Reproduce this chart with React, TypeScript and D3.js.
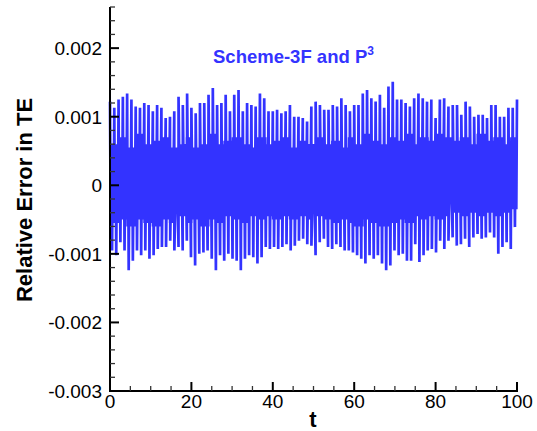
import React from "react";
import * as d3 from "d3";

// Upper peak values (units of 1e-3), read left to right across t = 0..100
const upperPeaks = [
  1.22, 1.13, 1.25, 1.29, 1.34, 1.25, 1.15, 1.13, 1.2, 1.17, 1.08, 1.17, 1.13, 0.98, 1.0, 1.08, 1.29, 1.17, 1.34, 1.13, 1.05, 1.2, 1.2, 1.32,
  1.42, 1.17, 1.2, 1.32, 1.08, 1.32, 1.39, 1.08, 1.2, 1.17, 1.15, 1.34, 1.27, 1.08, 1.08, 1.1, 1.05, 1.08, 1.17, 1.0, 1.0, 0.98, 0.93, 1.15,
  1.22, 1.17, 1.1, 1.1, 1.17, 1.15, 1.27, 1.17, 1.08, 1.17, 1.17, 1.34, 1.39, 1.27, 1.22, 1.32, 1.13, 1.44, 1.51, 1.25, 1.25, 1.2, 1.15, 1.27,
  1.34, 1.27, 1.22, 1.25, 0.98, 1.25, 1.27, 1.15, 1.17, 1.17, 1.03, 1.22, 1.15, 1.0, 1.03, 1.03, 0.98, 1.17, 1.17, 1.0, 1.0, 1.13, 1.13, 1.25,
];
// Lower peak values (units of 1e-3)
const lowerPeaks = [
  -0.95, -1.02, -0.83, -0.95, -1.24, -1.1, -0.95, -1.02, -0.95, -1.07, -1.02, -0.93, -0.9, -0.9, -0.81, -0.95, -0.9, -0.95, -0.81, -1.05, -1.17, -1.0, -0.98, -0.95, -1.07,
  -1.24, -1.02, -1.1, -1.0, -1.07, -1.1, -1.24, -1.07, -1.02, -1.05, -1.14, -1.05, -0.9, -0.93, -0.9, -0.93, -0.9, -0.86, -0.95, -0.88, -0.81, -0.78, -0.86, -0.88,
  -1.02, -0.83, -0.78, -0.9, -0.93, -0.86, -0.9, -0.95, -0.95, -0.98, -1.02, -1.07, -1.14, -1.02, -1.07, -1.02, -1.14, -1.24, -1.17, -0.95, -1.02, -1.0, -1.1, -1.1,
  -0.86, -1.12, -1.02, -0.95, -0.93, -0.98, -0.81, -0.93, -0.81, -0.76, -0.88, -0.86, -0.78, -0.9, -0.76, -0.71, -0.78, -0.76, -0.69, -0.76, -1.0, -0.9, -0.83, -0.93, -0.61,
];
// Inner (smaller-amplitude) turning levels of the dense core, two per 4 time units (units of 1e-3)
const coreHigh = [
  0.6, 0.7, 0.55, 0.75, 0.6, 0.65, 0.7, 0.55, 0.6, 0.7, 0.55, 0.6, 0.75, 0.6, 0.65, 0.7, 0.6, 0.55, 0.7, 0.6, 0.65, 0.7, 0.55, 0.65, 0.6,
  0.7, 0.6, 0.65, 0.55, 0.7, 0.6, 0.75, 0.65, 0.6, 0.7, 0.65, 0.75, 0.6, 0.7, 0.65, 0.75, 0.7, 0.65, 0.7, 0.6, 0.75, 0.65, 0.7, 0.6, 0.7,
];
const coreLow = [
  -0.55, -0.5, -0.6, -0.5, -0.55, -0.6, -0.5, -0.55, -0.45, -0.55, -0.5, -0.6, -0.5, -0.55, -0.45, -0.5, -0.55, -0.45, -0.5, -0.45, -0.5, -0.45, -0.5, -0.45, -0.5,
  -0.45, -0.5, -0.55, -0.5, -0.55, -0.6, -0.5, -0.55, -0.6, -0.55, -0.5, -0.55, -0.45, -0.5, -0.45, -0.5, -0.45, -0.4, -0.45, -0.4, -0.45, -0.4, -0.45, -0.4, -0.35,
];
const xMajorTicks = [0, 20, 40, 60, 80, 100];
const yMajorTicks = [0.002, 0.001, 0, -0.001, -0.002, -0.003];
const yTickLabels = ["0.002", "0.001", "0", "-0.001", "-0.002", "-0.003"];

const W = 537;
const H = 431;
const BLUE = "#3333ff";
const FONT = "'Liberation Sans', Arial, sans-serif";

type P = { t: number; v: number; side: number };

export default function App() {
  const x = d3.scaleLinear().domain([0, 100]).range([110, 517]);
  const y = d3.scaleLinear().domain([-0.003, 0.0026]).range([391, 7]);

  const peaks: P[] = [];
  upperPeaks.forEach((v, i) => peaks.push({ t: (i / (upperPeaks.length - 1)) * 100, v, side: 1 }));
  lowerPeaks.forEach((v, i) => peaks.push({ t: ((i + 0.5) / lowerPeaks.length) * 100, v, side: -1 }));
  peaks.sort((a, b) => a.t - b.t);

  const coreIdx = (t: number) => Math.max(0, Math.min(coreHigh.length - 1, Math.floor(t / 2)));
  const pts: [number, number][] = [];
  peaks.forEach((p, i) => {
    pts.push([p.t, p.v * 1e-3]);
    const q = peaks[i + 1];
    if (!q) return;
    const dt = q.t - p.t;
    const k = coreIdx(p.t);
    if (p.side !== q.side) {
      const first = p.side > 0 ? coreLow[k] : coreHigh[k];
      const second = p.side > 0 ? coreHigh[k] : coreLow[k];
      pts.push([p.t + dt / 3, first * 1e-3]);
      pts.push([p.t + (2 * dt) / 3, second * 1e-3]);
    } else {
      pts.push([p.t + dt / 2, (p.side > 0 ? coreLow[k] : coreHigh[k]) * 1e-3]);
    }
  });

  const line = d3
    .line<[number, number]>()
    .x((d) => x(d[0]))
    .y((d) => y(d[1]));

  const xMinor = d3.range(0, 101, 5).filter((t) => t % 20 !== 0);
  const yMinor = d3
    .range(-30, 27, 2)
    .map((k) => k * 1e-4)
    .filter((v) => Math.abs(Math.round(v * 1e4)) % 10 !== 0);

  return (
    <svg width={W} height={H} style={{ position: "absolute", left: 0, top: 0 }}>
      <rect width={W} height={H} fill="white" />
      <path d={line(pts) || ""} fill="none" stroke={BLUE} strokeWidth={2.7} strokeLinejoin="miter" strokeMiterlimit={2} />
      {/* axes */}
      <line x1={110} x2={110} y1={y(0.0026)} y2={392} stroke="black" strokeWidth={2} />
      <line x1={109} x2={518} y1={391} y2={391} stroke="black" strokeWidth={2} />
      {xMajorTicks.map((t) => (
        <g key={"xm" + t}>
          <line x1={x(t)} x2={x(t)} y1={391} y2={382} stroke="black" strokeWidth={2} />
          <text x={x(t)} y={408} textAnchor="middle" fontFamily={FONT} fontSize={19}>
            {t}
          </text>
        </g>
      ))}
      {xMinor.map((t) => (
        <line key={"xn" + t} x1={x(t)} x2={x(t)} y1={391} y2={386} stroke="#333" strokeWidth={1.3} />
      ))}
      {yMajorTicks.map((v, i) => (
        <g key={"ym" + i}>
          <line x1={110} x2={119} y1={y(v)} y2={y(v)} stroke="black" strokeWidth={2} />
          <text x={102} y={y(v) + 7} textAnchor="end" fontFamily={FONT} fontSize={19}>
            {yTickLabels[i]}
          </text>
        </g>
      ))}
      {yMinor.map((v, i) => (
        <line key={"yn" + i} x1={110} x2={115} y1={y(v)} y2={y(v)} stroke="#333" strokeWidth={1.3} />
      ))}
      <text x={313} y={427} textAnchor="middle" fontFamily={FONT} fontSize={22} fontWeight="bold">
        t
      </text>
      <text
        transform="translate(32,200) rotate(-90)"
        textAnchor="middle"
        fontFamily={FONT}
        fontSize={22}
        fontWeight="bold"
      >
        Relative Error in TE
      </text>
      <text x={213} y={63} fontFamily={FONT} fontSize={18.5} fontWeight="bold" fill={BLUE}>
        Scheme-3F and P
        <tspan fontSize={12} dy={-8}>
          3
        </tspan>
      </text>
    </svg>
  );
}
